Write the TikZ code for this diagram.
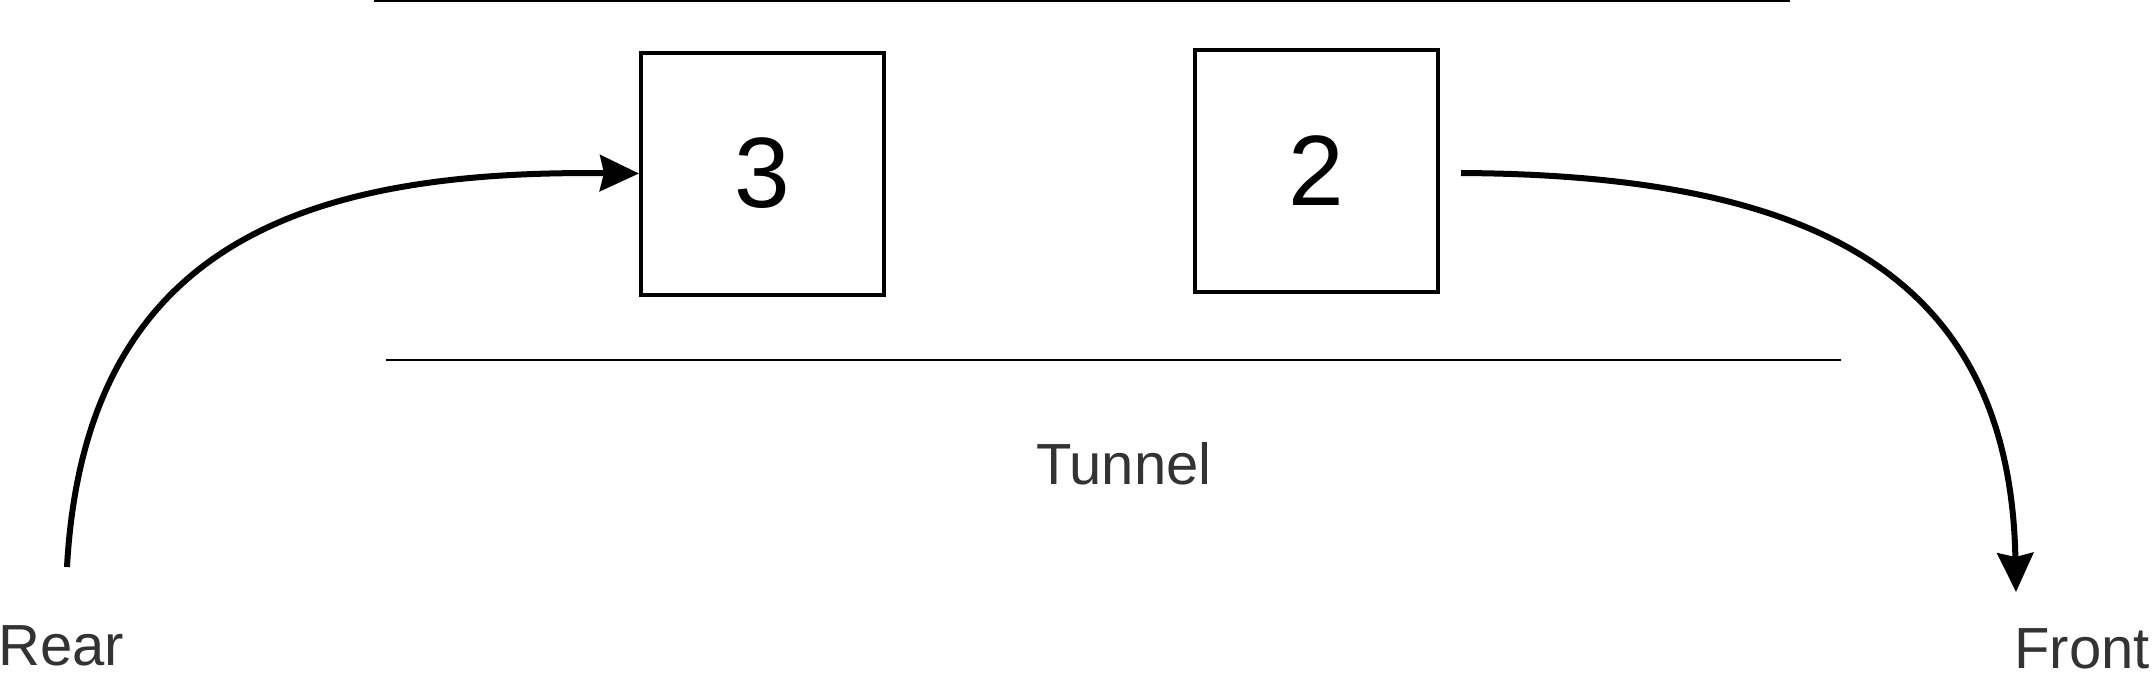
\documentclass[tikz,border=0pt]{standalone}
\usepackage{fontspec}
\setmainfont{Liberation Sans}
\usetikzlibrary{arrows.meta}
\definecolor{textgrey}{HTML}{333333}

\begin{document}
\begin{tikzpicture}[x=0.5pt, y=-0.5pt,
    wagon/.style={draw, line width=2pt, minimum width=121.5pt, minimum height=121pt, inner sep=0pt, font=\fontsize{50}{60}\selectfont},
    sidetext/.style={text=textgrey, inner sep=0pt, font=\fontsize{29}{35}\selectfont},
    flow/.style={line width=3pt, -{Stealth[length=19.5pt, width=18pt, inset=2pt]}},
    wall/.style={line width=1pt}]
    \useasboundingbox (0,0) rectangle (2154,677);
    % tunnel walls
    \coordinate(top_l) at (374, 1);
    \coordinate(top_r) at (1790, 1);
    \coordinate(bot_l) at (386, 360);
    \coordinate(bot_r) at (1841, 360);
    \draw[wall] (top_l) -- (top_r);
    \draw[wall] (bot_l) -- (bot_r);
    % wagons
    \node(car_3)[wagon] at (762.5, 173.5) {3};
    \node(car_2)[wagon] at (1316.5, 171) {2};
    \node(tunnel)[sidetext, anchor=base] at (1124, 484) {Tunnel};
    \node(rear)[sidetext, anchor=base west] at (-2, 665) {Rear};
    \node(front)[sidetext, anchor=base east] at (2150, 668) {Front};
    % flows
    \coordinate(rear_end) at (67, 567);
    \coordinate(out_start) at (1461, 173);
    \coordinate(front_end) at (2016, 592);
    \draw[flow] (rear_end) .. controls (85, 240) and (310, 170) .. (car_3.west);
    \draw[flow] (out_start) .. controls (1800, 175) and (2010, 265) .. (front_end);
\end{tikzpicture}
\end{document}
